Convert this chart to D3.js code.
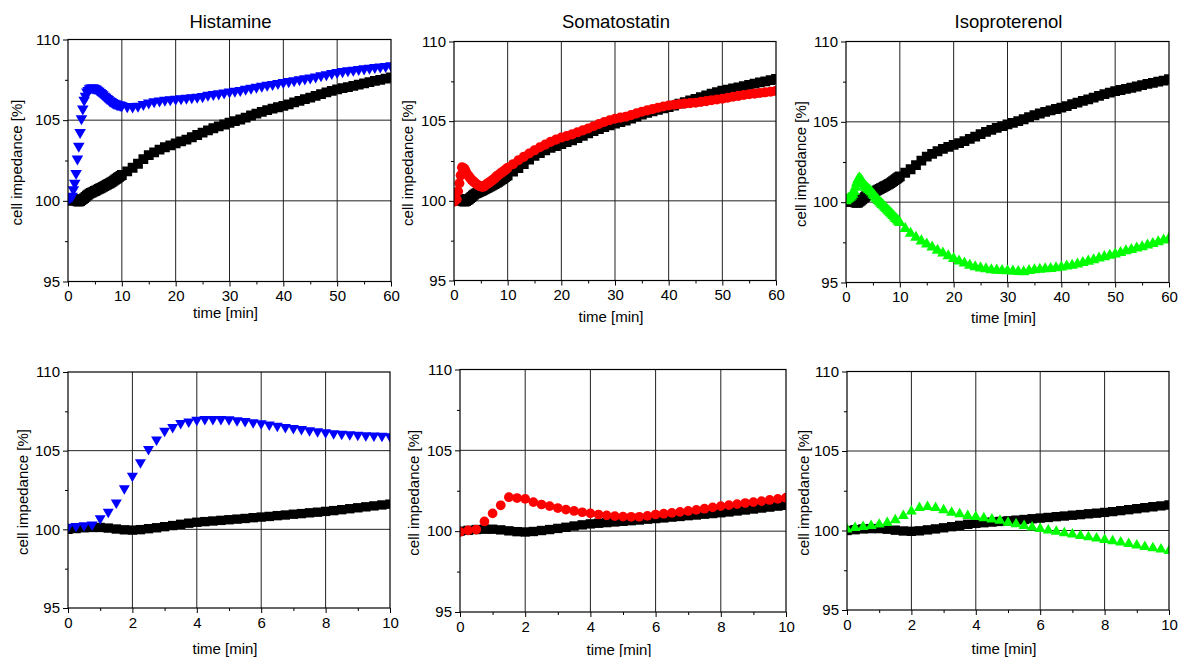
<!DOCTYPE html>
<html>
<head>
<meta charset="utf-8">
<script src="https://cdn.jsdelivr.net/npm/d3@7"></script>
<style>
  body { margin: 0; background: #fff; }
  svg { display: block; font-family: "Liberation Sans", Arial, sans-serif; }
  .axis text { font-size: 15px; fill: #000; }
  .axis path, .axis line { stroke: #000; }
  .label { font-size: 15px; fill: #000; }
  .title { font-size: 18.5px; fill: #000; }
</style>
</head>
<body>
<svg></svg>
<script>
//Time points [min]: 15 s steps for the first 10 min, then 1 min steps
const timeFine = [0, 0.25, 0.5, 0.75, 1, 1.25, 1.5, 1.75, 2, 2.25, 2.5, 2.75, 3, 3.25, 3.5, 3.75,
  4, 4.25, 4.5, 4.75, 5, 5.25, 5.5, 5.75, 6, 6.25, 6.5, 6.75, 7, 7.25, 7.5, 7.75,
  8, 8.25, 8.5, 8.75, 9, 9.25, 9.5, 9.75, 10];
const timeCoarse = [11, 12, 13, 14, 15, 16, 17, 18, 19, 20, 21, 22, 23, 24, 25, 26, 27, 28, 29, 30,
  31, 32, 33, 34, 35, 36, 37, 38, 39, 40, 41, 42, 43, 44, 45, 46, 47, 48, 49, 50,
  51, 52, 53, 54, 55, 56, 57, 58, 59, 60];

//Control (black squares), same in every panel
const controlFine = [100.0, 100.05, 100.1, 100.12, 100.12, 100.08, 100.02, 99.97, 99.95, 99.98, 100.04, 100.1,
  100.17, 100.24, 100.32, 100.39, 100.45, 100.49, 100.53, 100.57, 100.61, 100.65, 100.69, 100.74,
  100.78, 100.82, 100.87, 100.91, 100.96, 101.0, 101.05, 101.09, 101.14, 101.19, 101.25, 101.31,
  101.37, 101.43, 101.49, 101.55, 101.6];
const controlCoarse = [101.83, 102.05, 102.3, 102.58, 102.83, 103.0, 103.17, 103.32, 103.44, 103.56,
  103.68, 103.8, 103.94, 104.08, 104.23, 104.37, 104.5, 104.62, 104.73, 104.84,
  104.94, 105.04, 105.16, 105.29, 105.41, 105.52, 105.62, 105.71, 105.8, 105.89,
  105.98, 106.1, 106.2, 106.3, 106.4, 106.51, 106.62, 106.72, 106.82, 106.91,
  106.98, 107.05, 107.12, 107.2, 107.28, 107.36, 107.43, 107.5, 107.57, 107.65];

//Histamine (blue down triangles)
const histamineFine = [100.15, 100.2, 100.25, 100.3, 100.7, 101.1, 101.7, 102.6, 103.4, 104.25, 105.1, 105.7,
  106.25, 106.5, 106.75, 106.85, 106.95, 107.0, 107.0, 107.0, 106.98, 106.93, 106.87, 106.8,
  106.73, 106.66, 106.58, 106.5, 106.43, 106.36, 106.29, 106.22, 106.16, 106.1, 106.06, 106.03,
  106.0, 105.97, 105.95, 105.93, 105.9];
const histamineCoarse = [105.85, 105.83, 105.88, 105.98, 106.08, 106.15, 106.2, 106.24, 106.28, 106.31,
  106.34, 106.37, 106.4, 106.43, 106.47, 106.55, 106.6, 106.64, 106.7, 106.75,
  106.8, 106.85, 106.92, 106.99, 107.05, 107.11, 107.17, 107.22, 107.28, 107.34,
  107.4, 107.46, 107.51, 107.57, 107.63, 107.69, 107.76, 107.83, 107.9, 107.96,
  108.02, 108.07, 108.11, 108.15, 108.19, 108.23, 108.27, 108.3, 108.34, 108.38];

//Somatostatin (red circles)
const somatostatinFine = [99.95, 100.05, 100.1, 100.6, 101.1, 101.6, 102.1, 102.05, 102.0, 101.8, 101.65, 101.55,
  101.43, 101.33, 101.25, 101.17, 101.1, 101.03, 100.98, 100.93, 100.9, 100.89, 100.89, 100.95,
  101.03, 101.08, 101.13, 101.19, 101.25, 101.32, 101.39, 101.47, 101.55, 101.61, 101.67, 101.74,
  101.8, 101.86, 101.93, 102.0, 102.07];
const somatostatinCoarse = [102.3, 102.55, 102.76, 102.97, 103.17, 103.36, 103.53, 103.7, 103.84, 103.97,
  104.07, 104.17, 104.3, 104.42, 104.54, 104.68, 104.82, 104.95, 105.06, 105.15,
  105.22, 105.28, 105.38, 105.49, 105.59, 105.68, 105.76, 105.84, 105.92, 105.98,
  106.03, 106.07, 106.1, 106.13, 106.16, 106.21, 106.26, 106.31, 106.36, 106.41,
  106.47, 106.53, 106.59, 106.64, 106.69, 106.73, 106.77, 106.81, 106.85, 106.9];

//Isoproterenol (green up triangles)
const isoproterenolFine = [100.08, 100.17, 100.23, 100.3, 100.38, 100.48, 100.65, 100.92, 101.2, 101.42, 101.49, 101.42,
  101.28, 101.13, 101.03, 100.92, 100.86, 100.78, 100.7, 100.62, 100.5, 100.4, 100.3, 100.2,
  100.1, 100.01, 99.93, 99.84, 99.76, 99.67, 99.59, 99.5, 99.42, 99.33, 99.25, 99.16,
  99.07, 98.98, 98.9, 98.81, 98.72];
const isoproterenolCoarse = [98.35, 98.05, 97.8, 97.58, 97.38, 97.2, 97.0, 96.82, 96.65, 96.48,
  96.33, 96.2, 96.07, 95.97, 95.9, 95.84, 95.79, 95.76, 95.74, 95.72,
  95.7, 95.68, 95.66, 95.74, 95.79, 95.82, 95.84, 95.86, 95.91, 95.96,
  96.01, 96.07, 96.14, 96.23, 96.32, 96.41, 96.51, 96.6, 96.68, 96.76,
  96.86, 96.96, 97.04, 97.13, 97.22, 97.32, 97.42, 97.53, 97.63, 97.74];

//Ticks
const xTicksLong = [0, 10, 20, 30, 40, 50, 60];
const xMinorLong = [5, 15, 25, 35, 45, 55];
const xTicksShort = [0, 2, 4, 6, 8, 10];
const xMinorShort = [1, 3, 5, 7, 9];
const yTicks = [95, 100, 105, 110];
const yMinor = [97.5, 102.5, 107.5];
const yGrid = [100, 105];
const titles = ["Histamine", "Somatostatin", "Isoproterenol"];

//Chart Setup
const w = 1178;
const h = 657;
const svg = d3.select("svg").attr("width", w).attr("height", h);

const treatments = [
  { fine: histamineFine, coarse: histamineCoarse, color: "#0000ff", shape: "down" },
  { fine: somatostatinFine, coarse: somatostatinCoarse, color: "#ff0000", shape: "circle" },
  { fine: isoproterenolFine, coarse: isoproterenolCoarse, color: "#00ff00", shape: "up" }
];

//Panel boxes (left, top, width, height) and label offsets
const panels = [
  { col: 0, long: true,  left: 68,  top: 39.5, pw: 323, ph: 242, ylab: 51, xlab: 36.5 },
  { col: 1, long: true,  left: 454, top: 41.5, pw: 322, ph: 239, ylab: 46, xlab: 41.5 },
  { col: 2, long: true,  left: 846, top: 41.5, pw: 323, ph: 241, ylab: 45, xlab: 40.5 },
  { col: 0, long: false, left: 68,  top: 372,  pw: 322, ph: 236, ylab: 45.5, xlab: 45.5 },
  { col: 1, long: false, left: 460, top: 369.5, pw: 326, ph: 242.5, ylab: 46.5, xlab: 42.5 },
  { col: 2, long: false, left: 847, top: 371.5, pw: 322, ph: 238.5, ylab: 43.5, xlab: 44 }
];

function toPoints(fine, coarse, long){
  const t = long ? timeFine.concat(timeCoarse) : timeFine;
  const v = long ? fine.concat(coarse) : fine;
  return t.map((d, i) => ({ t: d, v: v[i] }));
}

//Marker areas: the long panels use bigger marks so the dense run reads as a band
function symbolPath(shape, long){
  if (shape === "square") return d3.symbol().type(d3.symbolSquare).size(long ? 96 : 88)();
  if (shape === "circle") return d3.symbol().type(d3.symbolCircle).size(long ? 80 : 74)();
  return d3.symbol().type(d3.symbolTriangle).size(long ? 58 : 52)();
}

function drawPanel(p, idx){
  const treat = treatments[p.col];
  const xDomain = p.long ? [0, 60] : [0, 10];
  const major = p.long ? xTicksLong : xTicksShort;
  const minor = p.long ? xMinorLong : xMinorShort;

  const x = d3.scaleLinear().domain(xDomain).range([0, p.pw]);
  const y = d3.scaleLinear().domain([95, 110]).range([p.ph, 0]);

  const g = svg.append("g").attr("transform", `translate(${p.left},${p.top})`);

  //Grid
  g.selectAll(".vgrid")
   .data(major.slice(1, -1))
   .enter()
   .append("line")
   .attr("x1", d => x(d)).attr("x2", d => x(d))
   .attr("y1", 0).attr("y2", p.ph)
   .attr("stroke", "#222").attr("stroke-width", 1);

  g.selectAll(".hgrid")
   .data(yGrid)
   .enter()
   .append("line")
   .attr("x1", 0).attr("x2", p.pw)
   .attr("y1", d => y(d)).attr("y2", d => y(d))
   .attr("stroke", "#222").attr("stroke-width", 1);

  //Data, clipped to the plot box
  const clipId = "clip" + idx;
  g.append("clipPath").attr("id", clipId)
   .append("rect").attr("width", p.pw).attr("height", p.ph);

  const plot = g.append("g").attr("clip-path", `url(#${clipId})`);

  const series = [
    { pts: toPoints(controlFine, controlCoarse, p.long), color: "#000", shape: "square" },
    { pts: toPoints(treat.fine, treat.coarse, p.long), color: treat.color, shape: treat.shape }
  ];

  series.forEach(s => {
    const path = symbolPath(s.shape, p.long);
    plot.append("g")
        .selectAll("path")
        .data(s.pts)
        .enter()
        .append("path")
        .attr("d", path)
        .attr("fill", s.color)
        .attr("transform", d => {
          const r = s.shape === "down" ? " rotate(180)" : "";
          return `translate(${x(d.t)},${y(d.v)})${r}`;
        });
  });

  //Frame
  g.append("rect")
   .attr("width", p.pw).attr("height", p.ph)
   .attr("fill", "none").attr("stroke", "#000").attr("stroke-width", 1.2);

  //Axes
  g.append("g").attr("class", "axis")
   .attr("transform", `translate(0,${p.ph})`)
   .call(d3.axisBottom(x).tickValues(major).tickSize(5).tickPadding(4).tickFormat(d3.format("d")))
   .call(a => a.select(".domain").remove());

  g.append("g").attr("class", "axis")
   .attr("transform", `translate(0,${p.ph})`)
   .call(d3.axisBottom(x).tickValues(minor).tickSize(3).tickFormat(""))
   .call(a => a.select(".domain").remove());

  g.append("g").attr("class", "axis")
   .call(d3.axisLeft(y).tickValues(yTicks).tickSize(5).tickPadding(3).tickFormat(d3.format("d")))
   .call(a => a.select(".domain").remove());

  g.append("g").attr("class", "axis")
   .call(d3.axisLeft(y).tickValues(yMinor).tickSize(3).tickFormat(""))
   .call(a => a.select(".domain").remove());

  //Labels
  g.append("text")
   .classed("label", true)
   .attr("text-anchor", "middle")
   .attr("transform", `translate(${-p.ylab + 5},${p.ph / 2 + 2}) rotate(-90)`)
   .text("cell impedance [%]");

  g.append("text")
   .classed("label", true)
   .attr("text-anchor", "middle")
   .attr("x", p.pw / 2 - 4)
   .attr("y", p.ph + p.xlab)
   .text("time [min]");

  if (p.long){
    g.append("text")
     .classed("title", true)
     .attr("text-anchor", "middle")
     .attr("x", p.pw / 2 + 1)
     .attr("y", 28 - p.top)
     .text(titles[p.col]);
  }
}

panels.forEach(drawPanel);
</script>
</body>
</html>
